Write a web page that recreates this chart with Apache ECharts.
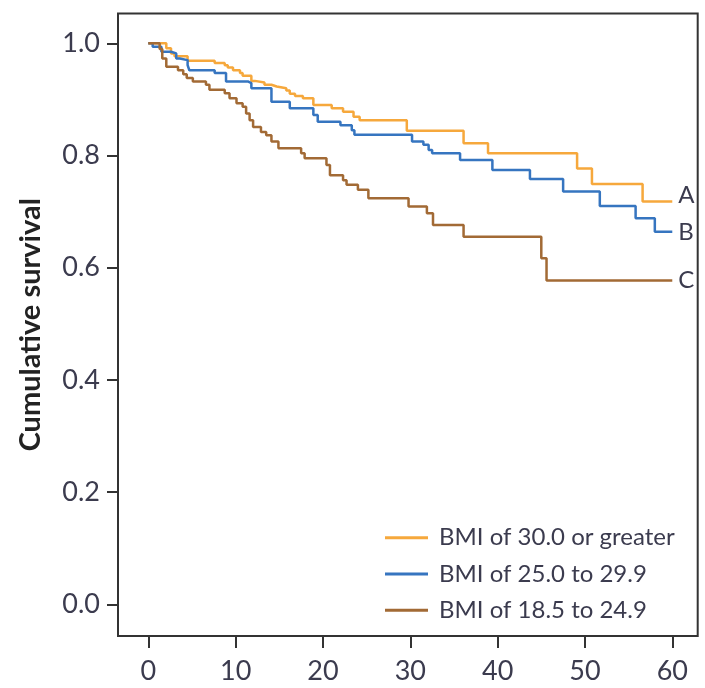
<!DOCTYPE html>
<html>
<head>
<meta charset="utf-8">
<script src="https://cdn.jsdelivr.net/npm/echarts@6/dist/echarts.min.js"></script>
<style>
  html, body { margin: 0; padding: 0; background: #ffffff; }
  #chart { width: 705px; height: 688px; }
</style>
</head>
<body>
<div id="chart"></div>
<script>
// Kaplan-Meier survival by BMI group: each point is (month of a drop, survival after it)
const xTicks = [0, 10, 20, 30, 40, 50, 60];
const yTicks = [0.0, 0.2, 0.4, 0.6, 0.8, 1.0];

const seriesNames = ['BMI of 30.0 or greater', 'BMI of 25.0 to 29.9', 'BMI of 18.5 to 24.9'];
const endLetters = ['A', 'B', 'C'];

const obeseTimes = [0, 2.06, 2.6, 3.0, 4.5, 7.6, 8.75, 9.1, 9.7, 10.5, 10.8, 11.8, 12.2, 13.3, 14.1, 14.7, 15.8, 16.2, 16.8, 17.7, 18.9, 21.0, 22.3, 23.5, 24.2, 29.6, 36.1, 38.9, 49.1, 50.8, 56.6, 60];
const obeseSurv  = [1.0, 0.991, 0.982, 0.977, 0.969, 0.965, 0.961, 0.957, 0.952, 0.947, 0.942, 0.933, 0.930, 0.926, 0.923, 0.920, 0.916, 0.910, 0.906, 0.902, 0.890, 0.884, 0.878, 0.869, 0.863, 0.844, 0.822, 0.804, 0.777, 0.749, 0.718, 0.718];

const overTimes = [0, 0.5, 1.5, 2.6, 3.2, 3.6, 4.5, 4.7, 7.6, 8.9, 11.4, 11.8, 14.1, 16.2, 18.9, 19.4, 22.0, 23.3, 23.6, 30.2, 31.5, 32.1, 32.5, 35.7, 39.4, 43.7, 47.5, 51.7, 55.8, 58.0, 60];
const overSurv  = [1.0, 0.994, 0.985, 0.982, 0.973, 0.970, 0.961, 0.952, 0.947, 0.932, 0.929, 0.920, 0.896, 0.884, 0.872, 0.860, 0.854, 0.845, 0.837, 0.825, 0.819, 0.810, 0.804, 0.792, 0.774, 0.758, 0.736, 0.710, 0.688, 0.664, 0.664];

const normalTimes = [0, 1.3, 1.6, 2.06, 3.4, 4.0, 4.4, 5.1, 6.6, 7.0, 8.75, 9.3, 10.1, 10.8, 11.2, 11.6, 12.0, 12.9, 13.5, 14.1, 14.9, 17.5, 17.9, 20.4, 20.8, 22.3, 22.7, 24.0, 25.2, 29.8, 31.9, 32.6, 36.1, 45.0, 45.6, 60];
const normalSurv  = [1.0, 0.990, 0.973, 0.958, 0.952, 0.945, 0.938, 0.932, 0.926, 0.917, 0.911, 0.902, 0.893, 0.887, 0.875, 0.863, 0.851, 0.842, 0.836, 0.825, 0.813, 0.804, 0.795, 0.783, 0.765, 0.756, 0.748, 0.739, 0.724, 0.709, 0.697, 0.676, 0.655, 0.617, 0.577, 0.577];

const lineColors = ['#f6a83c', '#3675c0', '#a26a35'];

function zip(ts, vs) { return ts.map((t, i) => [t, vs[i]]); }
const curves = [zip(obeseTimes, obeseSurv), zip(overTimes, overSurv), zip(normalTimes, normalSurv)];

const textColor = '#3b3b4e';
const frameColor = '#333333';
const font = 'Lato';

// the framed plot area reaches a little past the tick range on every side
const xRange = [-3.47, 62.91];
const yRange = [-0.0565, 1.0531];

const chart = echarts.init(document.getElementById('chart'), null, { renderer: 'canvas' });

const letterOffsets = [[0, -6], [0, 0], [0, 0]];

chart.setOption({
  animation: false,
  backgroundColor: '#ffffff',
  grid: {
    left: 118, top: 13.5, right: 7.3, bottom: 52,
    show: true, borderColor: frameColor, borderWidth: 2, backgroundColor: 'transparent'
  },
  xAxis: {
    type: 'value', min: xRange[0], max: xRange[1],
    position: 'bottom',
    axisLine: { show: false, onZero: false },
    axisTick: { show: true, length: 12, customValues: xTicks, lineStyle: { color: frameColor, width: 2 } },
    axisLabel: { fontFamily: font, fontSize: 27, color: textColor, margin: 22, customValues: xTicks },
    splitLine: { show: false }
  },
  yAxis: {
    type: 'value', min: yRange[0], max: yRange[1],
    position: 'left',
    axisLine: { show: false, onZero: false },
    axisTick: { show: true, length: 11, customValues: yTicks, lineStyle: { color: frameColor, width: 2 } },
    axisLabel: { fontFamily: font, fontSize: 27, color: textColor, margin: 18, customValues: yTicks, formatter: v => v.toFixed(1) },
    splitLine: { show: false },
    name: 'Cumulative survival',
    nameLocation: 'middle',
    nameRotate: 90,
    nameGap: 73,
    nameTextStyle: { fontFamily: font, fontWeight: 'bold', fontSize: 29, color: '#222222' }
  },
  legend: {
    orient: 'vertical',
    left: 380,
    top: 519.7,
    icon: 'rect',
    itemWidth: 43,
    itemHeight: 3,
    itemGap: 10.3,
    data: seriesNames,
    textStyle: { fontFamily: font, fontSize: 24, lineHeight: 26, color: textColor, padding: [0, 0, 0, 6] }
  },
  series: curves.map((pts, i) => ({
    name: seriesNames[i],
    type: 'line',
    step: 'end',
    data: pts,
    showSymbol: false,
    symbol: 'none',
    clip: false,
    color: lineColors[i],
    lineStyle: { color: lineColors[i], width: 2.5 },
    endLabel: {
      show: true,
      formatter: endLetters[i],
      fontFamily: font,
      fontSize: 24,
      color: textColor,
      distance: 6,
      offset: letterOffsets[i]
    },
    emphasis: { disabled: true }
  }))
});
</script>
</body>
</html>
